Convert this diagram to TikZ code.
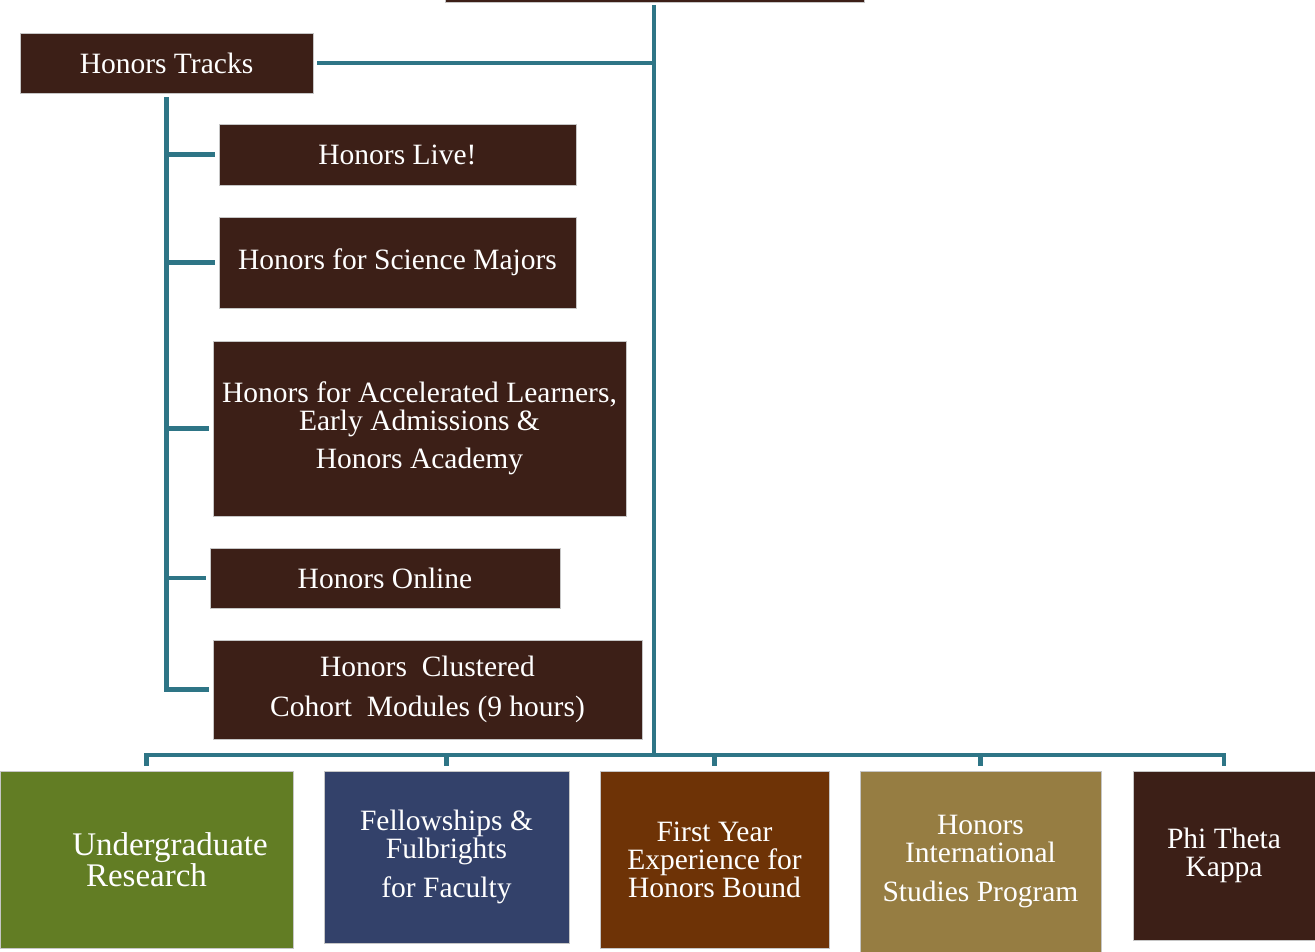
\documentclass[tikz,border=0pt]{standalone}
\usepackage{fontspec}
\setmainfont{Liberation Serif}
\definecolor{darkbrown}{HTML}{3C1F17}
\definecolor{tealline}{HTML}{2E7586}
\definecolor{moss}{HTML}{627D24}
\definecolor{navy}{HTML}{33416A}
\definecolor{rust}{HTML}{6E3306}
\definecolor{khaki}{HTML}{967D42}

\begin{document}
\begin{tikzpicture}[x=1pt, y=-1pt, font=\fontsize{29.5}{28}\selectfont,
    box/.style={draw=gray!45, line width=0.8pt, fill=darkbrown, text=white, inner sep=0pt, align=center},
    link/.style={draw=tealline, line width=4.5pt}]
        \useasboundingbox (0,0) rectangle (1315,952);
        \node[box, minimum width=419pt, minimum height=40pt] (root) at (654.5,-18) {};
        \node[box, minimum width=293pt, minimum height=60pt] (tracks) at (166.5,63) {Honors Tracks};
        \node[box, minimum width=357pt, minimum height=61pt] (live) at (397.5,154.5) {Honors Live!};
        \node[box, minimum width=357pt, minimum height=91pt] (science) at (397.5,262.5) {Honors for Science Majors};
        \node[box, minimum width=413pt, minimum height=175pt] (accel) at (419.5,428.5) {Honors for Accelerated Learners,\\Early Admissions \&\\[10pt]Honors Academy};
        \node[box, minimum width=350pt, minimum height=60pt] (online) at (385,578) {Honors Online};
        \node[box, minimum width=429pt, minimum height=99pt] (cluster) at (427.5,689.5) {Honors\ \ Clustered\\[12pt]Cohort\ \ Modules (9 hours)};
        \node[box, fill=moss, minimum width=293pt, minimum height=177pt, font=\fontsize{33}{30}\selectfont] (research) at (146.5,859.5) {\hspace*{47pt}Undergraduate\\Research};
        \node[box, fill=navy, minimum width=245pt, minimum height=172pt] (fellow) at (446.5,857) {Fellowships \&\\Fulbrights\\[11pt]for Faculty};
        \node[box, fill=rust, minimum width=229pt, minimum height=177pt] (firsty) at (714.5,859.5) {First Year\\Experience for\\Honors Bound};
        \node[box, fill=khaki, minimum width=241pt, minimum height=181pt] (intl) at (980.5,861.5) {Honors\\International\\[11pt]Studies Program};
        \node[box, minimum width=182pt, minimum height=169pt] (ptk) at (1224,855.5) {Phi Theta\\Kappa};
        \coordinate (top) at (654,5);
        \coordinate (hub) at (654,755);
        \draw[link] (top) -- (hub);
        \draw[link] ([xshift=4pt]tracks.east) -- (tracks.east -| top);
        \draw[link] ([yshift=-4pt]tracks.south) -- (tracks.south |- cluster.west) -- ([xshift=-4pt]cluster.west);
        \foreach \n in {live,science,accel,online} \draw[link] (tracks.south |- \n.west) -- ([xshift=-4pt]\n.west);
        \draw[link] ([yshift=5pt]research.north) -- (research.north |- hub) -| ([yshift=5pt]ptk.north);
        \foreach \n in {fellow,firsty,intl} \draw[link] ([yshift=5pt]\n.north) -- (\n.north |- hub);
    \end{tikzpicture}
\end{document}
